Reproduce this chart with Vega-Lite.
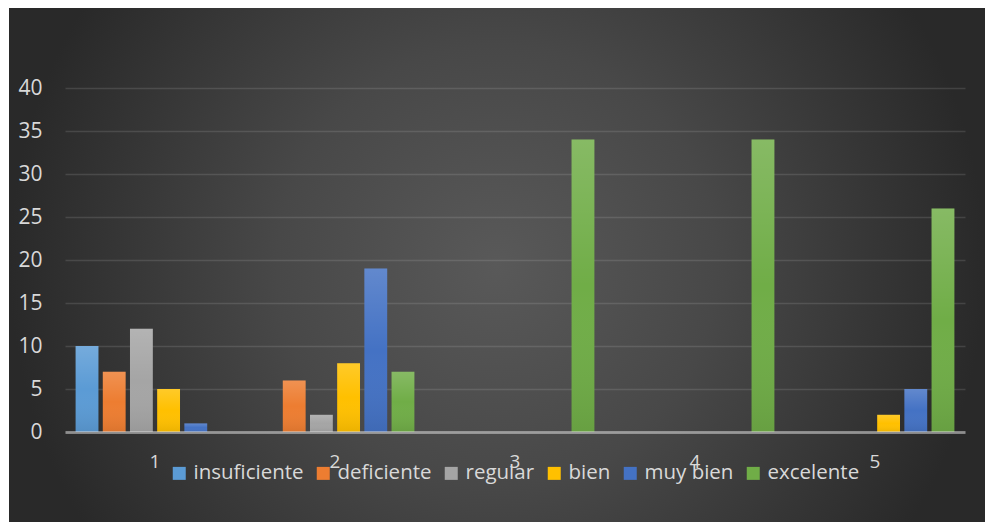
{
  "$schema": "https://vega.github.io/schema/vega-lite/v6.json",
  "width": 976,
  "height": 514,
  "autosize": {"type": "none"},
  "padding": {"left": 9, "top": 8, "right": 0, "bottom": 0},
  "background": "#ffffff",
  "config": {
    "font": "Open Sans",
    "view": {
      "stroke": null,
      "fill": {
        "gradient": "radial",
        "x1": 0.5, "y1": 0.5, "r1": 0,
        "x2": 0.5, "y2": 0.5, "r2": 0.5,
        "stops": [
          {"offset": 0, "color": "#595959"},
          {"offset": 0.45, "color": "#484848"},
          {"offset": 1, "color": "#292929"}
        ]
      }
    }
  },
  "data": {
    "values": [
      {"grupo": "1", "nivel": "insuficiente", "valor": 10},
      {"grupo": "1", "nivel": "deficiente", "valor": 7},
      {"grupo": "1", "nivel": "regular", "valor": 12},
      {"grupo": "1", "nivel": "bien", "valor": 5},
      {"grupo": "1", "nivel": "muy bien", "valor": 1},
      {"grupo": "1", "nivel": "excelente", "valor": 0},
      {"grupo": "2", "nivel": "insuficiente", "valor": 0},
      {"grupo": "2", "nivel": "deficiente", "valor": 6},
      {"grupo": "2", "nivel": "regular", "valor": 2},
      {"grupo": "2", "nivel": "bien", "valor": 8},
      {"grupo": "2", "nivel": "muy bien", "valor": 19},
      {"grupo": "2", "nivel": "excelente", "valor": 7},
      {"grupo": "3", "nivel": "insuficiente", "valor": 0},
      {"grupo": "3", "nivel": "deficiente", "valor": 0},
      {"grupo": "3", "nivel": "regular", "valor": 0},
      {"grupo": "3", "nivel": "bien", "valor": 0},
      {"grupo": "3", "nivel": "muy bien", "valor": 0},
      {"grupo": "3", "nivel": "excelente", "valor": 34},
      {"grupo": "4", "nivel": "insuficiente", "valor": 0},
      {"grupo": "4", "nivel": "deficiente", "valor": 0},
      {"grupo": "4", "nivel": "regular", "valor": 0},
      {"grupo": "4", "nivel": "bien", "valor": 0},
      {"grupo": "4", "nivel": "muy bien", "valor": 0},
      {"grupo": "4", "nivel": "excelente", "valor": 34},
      {"grupo": "5", "nivel": "insuficiente", "valor": 0},
      {"grupo": "5", "nivel": "deficiente", "valor": 0},
      {"grupo": "5", "nivel": "regular", "valor": 0},
      {"grupo": "5", "nivel": "bien", "valor": 2},
      {"grupo": "5", "nivel": "muy bien", "valor": 5},
      {"grupo": "5", "nivel": "excelente", "valor": 26}
    ]
  },
  "encoding": {
    "x": {
      "field": "grupo",
      "type": "nominal",
      "scale": {"range": [56, 956], "paddingInner": 0, "paddingOuter": 0},
      "axis": {
        "orient": "bottom",
        "offset": -90,
        "title": null,
        "labelAngle": 0,
        "labelFontSize": 19,
        "labelColor": "#d9d9d9",
        "labelPadding": 20,
        "ticks": false,
        "tickSize": 0,
        "domain": true,
        "domainColor": "#d9d9d9",
        "domainOpacity": 0.5,
        "domainWidth": 3,
        "grid": false,
        "zindex": 1
      }
    },
    "xOffset": {
      "field": "nivel",
      "type": "nominal",
      "sort": ["insuficiente", "deficiente", "regular", "bien", "muy bien", "excelente"],
      "scale": {"paddingInner": 0.16, "paddingOuter": 0.39}
    },
    "y": {
      "field": "valor",
      "type": "quantitative",
      "scale": {"domain": [0, 40], "range": [424, 80], "nice": false, "zero": true},
      "axis": {
        "offset": -56,
        "title": null,
        "values": [0, 5, 10, 15, 20, 25, 30, 35, 40],
        "labelFontSize": 21,
        "labelColor": "#d9d9d9",
        "labelPadding": 23,
        "ticks": false,
        "tickSize": 0,
        "domain": false,
        "grid": true,
        "gridColor": "#d9d9d9",
        "gridOpacity": 0.15,
        "gridWidth": 1.3,
        "zindex": 0
      }
    }
  },
  "layer": [
    {
      "mark": {"type": "bar"},
      "encoding": {
        "color": {
          "field": "nivel",
          "type": "nominal",
          "sort": ["insuficiente", "deficiente", "regular", "bien", "muy bien", "excelente"],
          "scale": {
            "domain": ["insuficiente", "deficiente", "regular", "bien", "muy bien", "excelente"],
            "range": ["#5B9BD5", "#ED7D31", "#A5A5A5", "#FFC000", "#4472C4", "#70AD47"]
          },
          "legend": {
            "orient": "none",
            "legendX": 160,
            "legendY": 455,
            "direction": "horizontal",
            "title": null,
            "symbolType": "square",
            "symbolSize": 169,
            "symbolStrokeWidth": 0,
            "symbolOpacity": 1,
            "labelFontSize": 20.5,
            "labelColor": "#d9d9d9",
            "labelFont": "Open Sans",
            "labelOffset": 4,
            "columnPadding": 9,
            "padding": 0
          }
        }
      }
    },
    {
      "mark": {
        "type": "bar",
        "fill": {
          "gradient": "linear",
          "x1": 0, "y1": 0, "x2": 0, "y2": 1,
          "stops": [
            {"offset": 0, "color": "rgba(255,255,255,0.16)"},
            {"offset": 0.5, "color": "rgba(255,255,255,0)"},
            {"offset": 1, "color": "rgba(0,0,0,0.08)"}
          ]
        }
      }
    }
  ]
}
